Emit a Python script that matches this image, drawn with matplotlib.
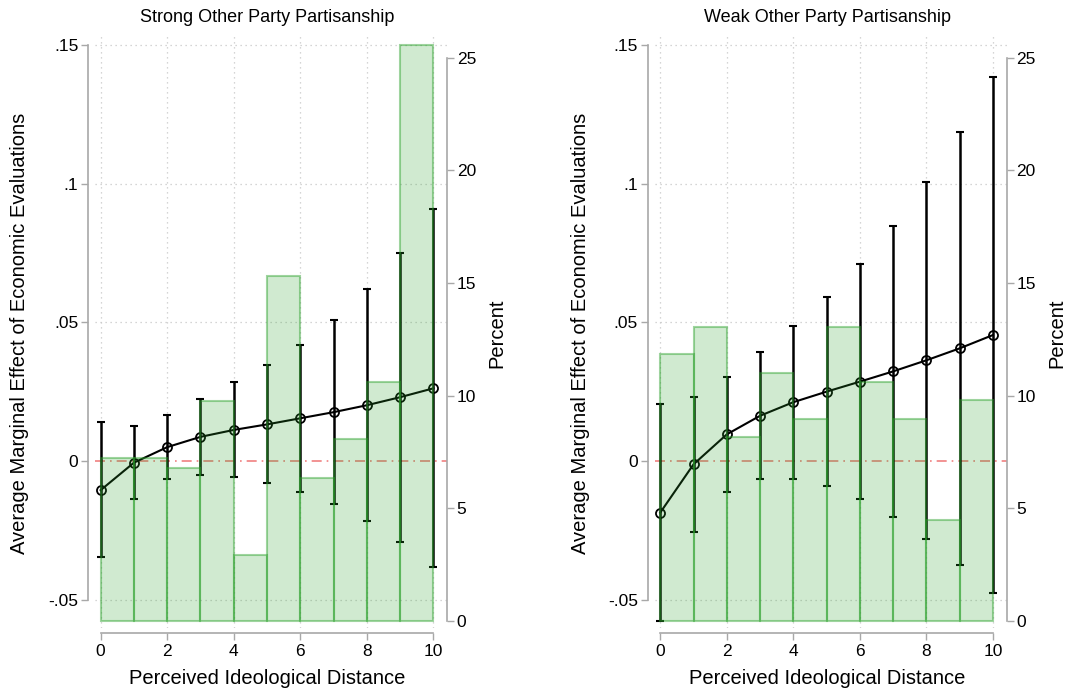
import matplotlib
matplotlib.use("Agg")
import matplotlib.pyplot as plt
import numpy as np

plt.rcParams['font.family'] = ['Liberation Sans', 'DejaVu Sans']

x_vals = [0, 1, 2, 3, 4, 5, 6, 7, 8, 9, 10]

# Strong Other Party Partisanship
strong_ame = [-0.0105, -0.0006, 0.0050, 0.0087, 0.0112, 0.0132, 0.0154, 0.0176, 0.0201, 0.0230, 0.0262]
strong_hi = [0.0140, 0.0125, 0.0166, 0.0225, 0.0284, 0.0346, 0.0418, 0.0508, 0.0619, 0.0751, 0.0907]
strong_lo = [-0.0347, -0.0138, -0.0065, -0.0052, -0.0059, -0.0079, -0.0112, -0.0155, -0.0216, -0.0291, -0.0382]
strong_pct = [7.22, 7.22, 6.78, 9.78, 2.94, 15.30, 6.35, 8.06, 10.62, 25.57]

# Weak Other Party Partisanship
weak_ame = [-0.0186, -0.0012, 0.0096, 0.0163, 0.0212, 0.0250, 0.0286, 0.0323, 0.0363, 0.0406, 0.0454]
weak_hi = [0.0207, 0.0231, 0.0303, 0.0393, 0.0488, 0.0591, 0.0709, 0.0847, 0.1007, 0.1187, 0.1384]
weak_lo = [-0.0577, -0.0256, -0.0112, -0.0065, -0.0065, -0.0090, -0.0137, -0.0202, -0.0281, -0.0374, -0.0476]
weak_pct = [11.84, 13.05, 8.15, 11.01, 8.97, 13.05, 10.61, 8.97, 4.47, 9.80]

bin_edges = [0, 1, 2, 3, 4, 5, 6, 7, 8, 9, 10]

titles = ["Strong Other Party Partisanship", "Weak Other Party Partisanship"]
yticks = [-0.05, 0, 0.05, 0.1, 0.15]
ytick_labels = ["-.05", "0", ".05", ".1", ".15"]
pticks = [0, 5, 10, 15, 20, 25]
xticks = [0, 2, 4, 6, 8, 10]

W, H = 1070, 693
fig = plt.figure(figsize=(W / 100, H / 100), dpi=100)

axis_gray = "#a8a8a8"
grid_gray = "#c8c8c8"
face = (0.17, 0.63, 0.17, 0.22)
edge = (0.17, 0.63, 0.17, 0.45)

panels = [
    (95, 447, strong_ame, strong_lo, strong_hi, strong_pct, titles[0], 267, 20, 497),
    (654.6, 1006.5, weak_ame, weak_lo, weak_hi, weak_pct, titles[1], 827, 580, 1057),
]

tick_fs = 12.5
label_fs = 14.5
title_fs = 13

top_px, bot_px = 35, 628
for (lpx, rpx, ame, lo, hi, pct, title, cx, ylx, prx) in panels:
    ax = fig.add_axes([lpx / W, (H - bot_px) / H, (rpx - lpx) / W, (bot_px - top_px) / H])
    ax.set_xlim(-0.17, 10.41)
    ax.set_ylim(-0.0602, 0.15357)
    ax.set_facecolor("none")
    # grid
    for yt in yticks:
        if yt != 0:
            ax.axhline(yt, color=grid_gray, lw=0.9, ls=(0, (1, 3)), zorder=0)
    for xt in xticks:
        ax.axvline(xt, color=grid_gray, lw=0.9, ls=(0, (1, 3)), zorder=0)
    ax.axhline(0, color="#f08080", lw=1.2, ls=(0, (6, 3, 1, 3)), zorder=1)

    xa = np.array(x_vals)
    a = np.array(ame)
    ax.errorbar(xa, a, yerr=[a - np.array(lo), np.array(hi) - a], fmt="none",
                ecolor="black", elinewidth=1.8, capsize=3.0, capthick=1.5, zorder=2)
    ax.plot(xa, a, color="black", lw=1.5, marker="o", ms=6.5, mfc="none",
            mec="black", mew=1.3, zorder=3)

    ax.set_yticks(yticks)
    ax.set_yticklabels(ytick_labels)
    ax.set_xticks(xticks)
    ax.tick_params(axis="y", length=5, width=1, color=axis_gray, labelsize=tick_fs, pad=2)
    ax.tick_params(axis="x", length=5, width=1, color=axis_gray, labelsize=tick_fs, pad=3)
    for s in ["top", "right"]:
        ax.spines[s].set_visible(False)
    ax.spines["left"].set_position(("outward", 5))
    ax.spines["left"].set_bounds(-0.05, 0.15)
    ax.spines["left"].set_color(axis_gray)
    ax.spines["left"].set_linewidth(1.2)
    ax.spines["bottom"].set_position(("outward", 3.6))
    ax.spines["bottom"].set_bounds(0, 10)
    ax.spines["bottom"].set_color(axis_gray)
    ax.spines["bottom"].set_linewidth(1.2)

    fig.text(cx / W, 1 - 18 / H, title, fontsize=title_fs, ha="center", va="center")
    fig.text(cx / W, 1 - 678 / H, "Perceived Ideological Distance", fontsize=label_fs,
             ha="center", va="center")
    fig.text(ylx / W, 1 - 333 / H, "Average Marginal Effect of Economic Evaluations",
             fontsize=label_fs, ha="center", va="center", rotation=90)
    fig.text(prx / W, 1 - 333 / H, "Percent", fontsize=label_fs, ha="center",
             va="center", rotation=90)

    ax2 = ax.twinx()
    ax2.set_ylim(-0.311, 26.01)
    ax2.bar(bin_edges[:-1], pct, width=1, align="edge", facecolor=face, edgecolor=edge,
            linewidth=1.5, zorder=4)
    ax2.set_yticks(pticks)
    ax2.tick_params(axis="y", length=5, width=1, color=axis_gray, labelsize=tick_fs, pad=2)
    for s in ["top", "left", "bottom"]:
        ax2.spines[s].set_visible(False)
    ax2.spines["right"].set_bounds(0, 25)
    ax2.spines["right"].set_color(axis_gray)
    ax2.spines["right"].set_linewidth(1.2)

fig.savefig("out.png", dpi=100)
